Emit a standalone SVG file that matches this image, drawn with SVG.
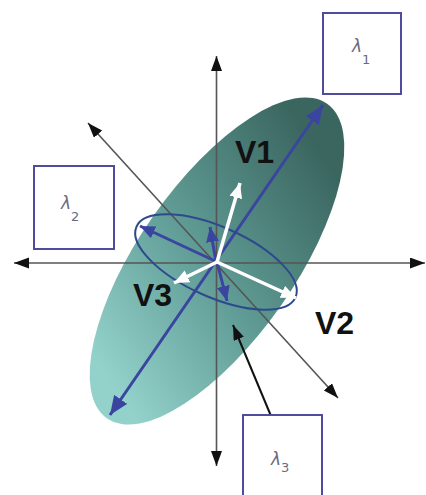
<svg xmlns="http://www.w3.org/2000/svg" width="426" height="495" viewBox="0 0 426 495">
<style>
.axis{stroke:#555;stroke-width:1.6;fill:none}
.blue{stroke:#3a45a0;stroke-width:3;fill:none}
.white{stroke:#fff;stroke-width:3.5;fill:none}
.box{fill:#fff;stroke:#4d4d9c;stroke-width:2}
.lbl{font-family:"Liberation Sans",Arial,sans-serif;font-weight:bold;font-size:32px;fill:#111}
.lam{font-family:"DejaVu Sans","Liberation Sans",sans-serif;font-style:italic;font-size:17px;fill:#6a6a7e}
</style>
<defs>
<linearGradient id="g" gradientUnits="userSpaceOnUse" x1="95" y1="360" x2="345" y2="190" gradientTransform="rotate(55 217 261)">
<stop offset="0" stop-color="#93d1cb"/>
<stop offset="0.5" stop-color="#5e9a93"/>
<stop offset="1" stop-color="#3b6660"/>
</linearGradient>
<marker id="ak" markerUnits="userSpaceOnUse" markerWidth="16" markerHeight="12" refX="15" refY="5.5" orient="auto-start-reverse" viewBox="0 0 16 12">
<path d="M0,0 L15,5.5 L0,11 z" fill="#111"/>
</marker>
<marker id="ab" markerUnits="userSpaceOnUse" markerWidth="20" markerHeight="18" refX="19" refY="8" orient="auto-start-reverse" viewBox="0 0 20 18">
<path d="M0,0 L19,8 L0,16 z" fill="#3a45a0"/>
</marker>
<marker id="as" markerUnits="userSpaceOnUse" markerWidth="16" markerHeight="14" refX="15" refY="6.5" orient="auto" viewBox="0 0 16 14">
<path d="M0,0 L15,6.5 L0,13 z" fill="#3a45a0"/>
</marker>
<marker id="aw" markerUnits="userSpaceOnUse" markerWidth="16" markerHeight="14" refX="15" refY="6.5" orient="auto" viewBox="0 0 16 14">
<path d="M0,0 L15,6.5 L0,13 z" fill="#fff"/>
</marker>
</defs>
<rect width="426" height="495" fill="#fff"/>
<g id="ellipsoid">
<ellipse cx="217" cy="261" rx="192" ry="78" transform="rotate(-55 217 261)" fill="url(#g)"/>
</g>
<g id="connectors">
<line class="axis" x1="216.5" y1="466" x2="216.5" y2="56" marker-start="url(#ak)" marker-end="url(#ak)"/>
<line class="axis" x1="14" y1="263" x2="425" y2="263" marker-start="url(#ak)" marker-end="url(#ak)"/>
<line class="axis" x1="338" y1="398" x2="88" y2="123" marker-start="url(#ak)" marker-end="url(#ak)"/>
<line class="blue" x1="110" y1="415" x2="323" y2="105" marker-start="url(#ab)" marker-end="url(#ab)"/>
<ellipse cx="216" cy="262" rx="87" ry="35" transform="rotate(24 216 262)" fill="none" stroke="#2e4a8c" stroke-width="2"/>
<line class="blue" x1="215" y1="261" x2="140" y2="226" marker-end="url(#as)"/>
<line class="blue" x1="216" y1="262" x2="210" y2="227" marker-end="url(#as)"/>
<line class="blue" x1="217" y1="262" x2="227" y2="301" marker-end="url(#as)"/>
<line class="white" x1="217" y1="262" x2="240" y2="183" marker-end="url(#aw)"/>
<line class="white" x1="217" y1="262" x2="174" y2="283" marker-end="url(#aw)"/>
<line class="white" x1="217" y1="262" x2="296" y2="298" marker-end="url(#aw)"/>
<line stroke="#111" stroke-width="2" x1="271" y1="416" x2="233" y2="325" marker-end="url(#ak)"/>
</g>
<g id="v1"><text class="lbl" x="235" y="163">V1</text></g>
<g id="v2"><text class="lbl" x="315" y="334">V2</text></g>
<g id="v3"><text class="lbl" x="133" y="306">V3</text></g>
<g id="lambda1">
<rect class="box" x="323" y="13" width="78" height="81"/>
<text class="lam" x="352" y="52">λ<tspan font-size="13" dy="12" font-style="normal">1</tspan></text>
</g>
<g id="lambda2">
<rect class="box" x="34" y="166" width="80" height="83"/>
<text class="lam" x="61" y="209">λ<tspan font-size="13" dy="12" font-style="normal">2</tspan></text>
</g>
<g id="lambda3">
<rect class="box" x="243" y="415" width="79" height="86"/>
<text class="lam" x="271" y="465">λ<tspan font-size="13" dy="7" font-style="normal">3</tspan></text>
</g>
</svg>
